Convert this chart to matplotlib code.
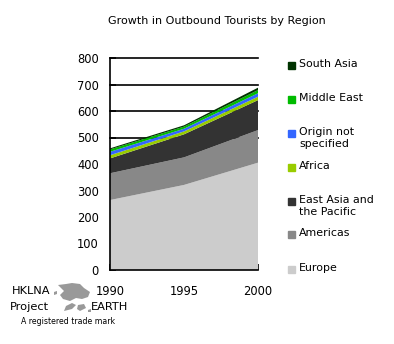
import matplotlib
matplotlib.use("Agg")
import matplotlib.pyplot as plt
from matplotlib.patches import Polygon, Rectangle

# outbound tourists (millions), stacked bottom to top
years = [1990, 1995, 2000]
europe = [264, 321, 405]
americas = [101, 104, 123]
east_asia = [56, 87, 113]
africa = [12, 11, 13]
not_specified = [13, 10, 13]
middle_east = [9, 8, 12]
south_asia = [4, 5, 9]

regions = ["Europe", "Americas", "East Asia and\nthe Pacific", "Africa",
           "Origin not\nspecified", "Middle East", "South Asia"]
colors = ["#cccccc", "#888888", "#333333", "#99cc00", "#3366ff", "#00bb00", "#003300"]
yticks = [0, 100, 200, 300, 400, 500, 600, 700, 800]

W, H = 394, 344
fig = plt.figure(figsize=(W / 100, H / 100), dpi=100)
ax = fig.add_axes([110 / W, 1 - 270 / H, 148 / W, 212 / H])

series = [europe, americas, east_asia, africa, not_specified, middle_east, south_asia]
ax.stackplot(years, *series, colors=colors, linewidth=0, zorder=2)

ax.set_xlim(1990, 2000)
ax.set_ylim(0, 800)
ax.set_xticks(years)
ax.set_yticks(yticks)

# gridlines behind the areas; only the ones that can show above the stack
lowest_top = min(sum(vals) for vals in zip(*series))
for y in yticks[1:]:
    if y > lowest_top:
        ax.axhline(y, color="black", lw=1.2, zorder=1, clip_on=False)
for s in ("top", "right"):
    ax.spines[s].set_visible(False)
for s in ("left", "bottom"):
    ax.spines[s].set_linewidth(1.2)
    ax.spines[s].set_zorder(3)
ax.tick_params(axis="both", direction="in", length=4, width=1.2, labelsize=8.3,
               right=False, top=False)
ax.tick_params(axis="y", pad=8)
ax.tick_params(axis="x", pad=11)
for t in ax.get_yticklines() + ax.get_xticklines():
    t.set_zorder(4)

fig.text(217 / W, 1 - 21 / H, "Growth in Outbound Tourists by Region",
         ha="center", va="center", fontsize=8)

# legend, top entry first
label_y = [65, 99, 133, 167, 201, 234, 269]
for lbl, col, yy in zip(regions[::-1], colors[::-1], label_y):
    fig.patches.append(Rectangle((288 / W, 1 - (yy + 4) / H), 7 / W, 7 / H,
                                 transform=fig.transFigure, color=col))
    fig.text(299 / W, 1 - (yy - 6) / H, lbl, ha="left", va="top",
             fontsize=7.9, linespacing=1.25)

# logo block
fig.text(12 / W, 1 - 291 / H, "HKLNA", ha="left", va="center", fontsize=8.2)
fig.text(10 / W, 1 - 307 / H, "Project", ha="left", va="center", fontsize=8.2)
fig.text(91 / W, 1 - 307 / H, "EARTH", ha="left", va="center", fontsize=8.2)
fig.text(21 / W, 1 - 321 / H, "A registered trade mark", ha="left", va="center",
         fontsize=5.6)
shapes = [
    [(58, 285), (66, 284), (72, 283), (80, 284), (84, 288), (90, 292), (88, 297),
     (82, 299), (76, 298), (70, 301), (63, 299), (60, 295), (64, 291)],
    [(66, 306), (72, 303), (76, 305), (72, 309), (64, 311)],
    [(78, 305), (84, 304), (86, 308), (80, 311), (77, 309)],
    [(54, 292), (57, 291), (57, 294), (54, 295)],
    [(88, 310), (91, 309), (91, 312), (88, 312)],
]
for pts in shapes:
    fig.patches.append(Polygon([(x / W, 1 - y / H) for x, y in pts], closed=True,
                               transform=fig.transFigure, color="#999999", lw=0))

fig.savefig("out.png", dpi=100)
